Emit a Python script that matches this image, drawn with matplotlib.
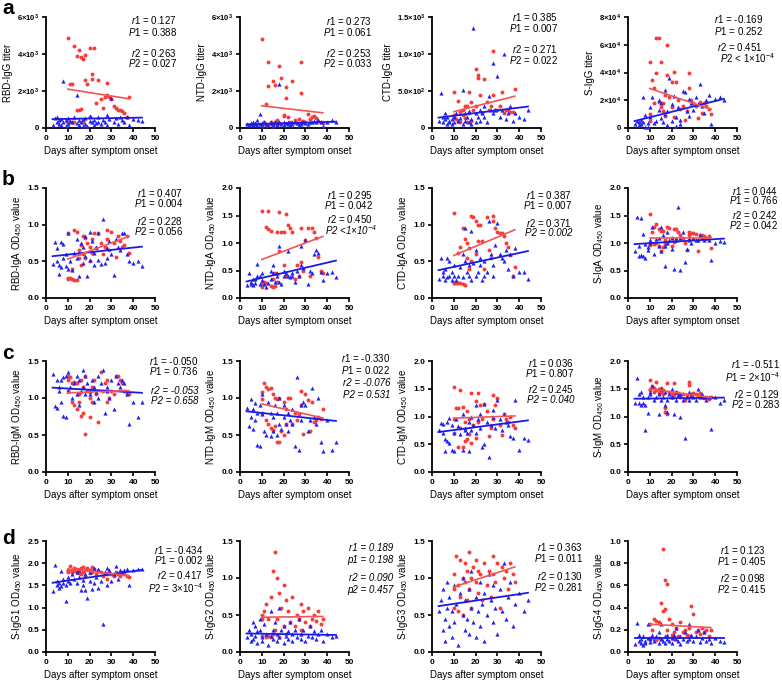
import numpy as np
import matplotlib
matplotlib.use('Agg')
import matplotlib.pyplot as plt

plt.rcParams['font.family'] = ['Liberation Sans', 'DejaVu Sans']
plt.rcParams['mathtext.fontset'] = 'custom'
plt.rcParams['mathtext.rm'] = 'Liberation Sans'
plt.rcParams['mathtext.it'] = 'Liberation Sans:italic'
plt.rcParams['mathtext.bf'] = 'Liberation Sans:bold'
plt.rcParams['mathtext.default'] = 'regular'

# ---------------- data ----------------
red_days = [10, 10, 10, 11, 12, 12, 13, 13, 14, 14, 15, 15, 16, 16, 17, 17, 18, 18, 19, 20, 20,
            21, 21, 22, 23, 24, 25, 26, 27, 28, 28, 29, 30, 31, 32, 33, 34, 35, 36, 37, 38]
blue_days = [3, 4, 5, 5, 6, 6, 7, 7, 8, 8, 9, 9, 10, 10, 11, 12, 13, 14, 14, 15, 15, 16, 17, 17,
             18, 18, 19, 20, 20, 21, 22, 22, 23, 24, 24, 25, 26, 27, 28, 28, 29, 30, 31, 32, 33,
             34, 35, 36, 37, 38, 40, 42, 44]

# row a : IgG titers
rbd_igg_red = [300, 4850, 250, 2400, 2400, 350, 4450, 300, 3900, 950, 4200, 1000, 3850, 1050, 3750, 300,
               3950, 2600, 2400, 4350, 600, 2900, 2650, 4350, 1350, 2600, 1550, 1100, 1700, 2450, 1800,
               1700, 1550, 1200, 1100, 1000, 950, 900, 800, 600, 1700]
rbd_igg_blue = [150, 550, 300, 600, 200, 450, 150, 500, 2550, 300, 100, 450, 200, 550, 400, 300, 600,
                1800, 250, 450, 150, 300, 500, 100, 550, 200, 100, 400, 650, 300, 150, 450, 250, 600,
                350, 200, 450, 300, 700, 150, 500, 1600, 350, 550, 200, 600, 450, 300, 600, 150, 500,
                450, 400]
ntd_igg_red = [150, 4800, 200, 300, 1300, 150, 3550, 2250, 200, 350, 2550, 150, 2350, 300, 200, 450,
               3350, 250, 2700, 650, 700, 2200, 1600, 600, 300, 2550, 450, 250, 500, 3550, 1900, 400,
               300, 750, 500, 600, 650, 550, 400, 300, 250]
ntd_igg_blue = [200, 150, 250, 200, 300, 150, 200, 250, 450, 150, 750, 200, 100, 250, 300, 200, 150,
                250, 300, 100, 200, 300, 150, 250, 300, 2400, 200, 350, 150, 250, 300, 200, 150, 350,
                200, 300, 250, 150, 350, 200, 300, 250, 200, 350, 300, 400, 350, 450, 300, 100, 350,
                450, 300]
ctd_igg_red = [150, 480, 170, 120, 370, 100, 80, 220, 250, 180, 300, 130, 300, 80, 480, 200, 350, 100,
               240, 800, 300, 720, 680, 450, 200, 660, 350, 250, 300, 1040, 450, 250, 240, 300, 480,
               200, 250, 250, 220, 210, 530]
ctd_igg_blue = [100, 470, 150, 80, 120, 200, 60, 150, 100, 80, 120, 50, 150, 80, 200, 100, 130, 520, 60,
                200, 100, 150, 80, 230, 60, 120, 1350, 200, 80, 150, 250, 100, 200, 300, 150, 80, 430,
                250, 880, 200, 250, 700, 150, 250, 1000, 120, 200, 300, 100, 200, 150, 120, 250]
s_igg_red = [10000, 47500, 5000, 34500, 29000, 18000, 65000, 39500, 65000, 19000, 47500, 15000, 18000,
             12000, 24000, 9000, 60000, 38000, 22000, 33500, 15000, 40500, 8000, 33500, 20000, 14000,
             16000, 6000, 12000, 40000, 28500, 20000, 18000, 16000, 7000, 19000, 11000, 18000, 16000,
             14000, 10000]
s_igg_blue = [3000, 5000, 4000, 2000, 5500, 3000, 22000, 4000, 9500, 1000, 3500, 500, 8000, 15000, 22000,
              3500, 5000, 20000, 13000, 18000, 7000, 4000, 27500, 10000, 2500, 12000, 36000, 5000, 17000,
              23000, 1500, 8000, 15000, 3000, 6000, 27000, 26000, 12000, 21000, 9000, 18000, 13000,
              22000, 17000, 32000, 16000, 11000, 20000, 24000, 3000, 21000, 22000, 20000]

# row b : IgA OD450
rbd_iga_red = [0.26, 0.88, 0.27, 0.27, 0.26, 0.40, 0.93, 0.25, 0.90, 0.25, 0.65, 0.55, 0.45, 0.72, 0.85,
               0.60, 0.82, 0.55, 0.75, 0.70, 0.50, 0.62, 0.80, 0.88, 0.68, 0.88, 0.75, 0.60, 0.70, 0.93,
               0.80, 0.65, 0.90, 0.75, 0.56, 0.85, 0.78, 0.70, 0.72, 0.85, 0.62]
rbd_iga_blue = [0.46, 0.77, 0.50, 0.68, 0.33, 0.45, 0.76, 0.42, 0.54, 0.74, 0.43, 0.60, 0.40, 0.88, 0.50,
                0.38, 0.62, 0.55, 0.80, 0.30, 0.62, 0.75, 0.48, 0.70, 0.85, 0.57, 0.30, 0.90, 0.52, 0.78,
                0.62, 0.45, 0.70, 0.52, 0.88, 0.46, 1.08, 0.48, 0.68, 0.55, 0.78, 0.60, 0.32, 0.80, 0.70,
                0.66, 0.88, 0.88, 0.60, 0.50, 0.48, 0.50, 0.44]
ntd_iga_red = [0.20, 1.59, 0.28, 0.30, 1.30, 0.28, 1.59, 1.25, 1.22, 0.22, 0.35, 0.20, 0.45, 0.22, 1.20,
               0.30, 1.57, 0.85, 1.20, 1.20, 0.60, 1.53, 0.40, 1.33, 1.28, 1.20, 0.35, 0.60, 0.40, 1.27,
               0.65, 0.50, 1.05, 1.28, 0.40, 1.28, 1.20, 1.10, 0.75, 0.50, 0.45]
ntd_iga_blue = [0.23, 0.45, 0.30, 0.25, 0.24, 0.35, 0.35, 0.28, 0.62, 0.40, 0.25, 0.40, 0.33, 0.45, 0.25,
                0.20, 0.28, 0.50, 0.35, 0.60, 0.45, 0.30, 0.40, 0.45, 0.95, 0.30, 0.25, 0.40, 0.50, 0.45,
                0.40, 0.85, 0.38, 0.45, 0.40, 0.30, 0.50, 0.40, 0.60, 0.95, 0.55, 1.05, 0.25, 0.50, 0.45,
                0.80, 0.87, 0.82, 0.48, 0.33, 0.45, 0.47, 0.38]
ctd_iga_red = [0.20, 1.16, 0.20, 0.20, 0.62, 0.21, 0.70, 0.20, 0.95, 0.19, 0.80, 0.18, 0.75, 0.55, 0.68,
               0.40, 1.12, 0.50, 1.10, 1.05, 0.60, 1.00, 0.78, 1.00, 0.78, 0.40, 1.10, 0.65, 0.55, 1.12,
               1.05, 0.95, 0.90, 0.88, 0.88, 0.85, 0.75, 0.70, 0.58, 0.30, 0.42]
ctd_iga_blue = [0.26, 0.55, 0.35, 0.30, 0.25, 0.40, 0.55, 0.28, 0.50, 0.30, 0.35, 0.25, 0.45, 0.30, 0.25,
                0.30, 0.42, 0.28, 0.60, 0.50, 0.95, 0.35, 0.45, 0.30, 0.92, 0.25, 0.48, 0.30, 0.65, 0.35,
                0.55, 0.45, 0.25, 0.30, 0.50, 0.35, 1.05, 0.60, 0.45, 0.30, 0.72, 1.02, 0.60, 0.55, 0.50,
                0.65, 0.40, 0.60, 0.30, 0.68, 0.36, 0.36, 0.26]
s_iga_red = [1.00, 1.52, 0.97, 1.20, 1.30, 0.98, 1.35, 1.00, 1.25, 0.95, 1.22, 0.85, 1.22, 0.92, 1.05,
             0.98, 1.30, 1.00, 1.28, 1.10, 0.95, 1.25, 1.02, 1.25, 1.20, 1.15, 1.10, 1.00, 0.87, 1.20,
             1.15, 1.18, 1.18, 1.17, 0.86, 1.15, 1.14, 1.12, 1.10, 1.12, 0.91]
s_iga_blue = [0.86, 1.48, 0.76, 0.95, 1.46, 0.78, 0.77, 1.17, 0.73, 0.98, 0.92, 0.88, 1.05, 1.00, 1.30,
              0.80, 1.08, 0.95, 1.10, 1.30, 0.85, 1.15, 0.58, 0.95, 1.00, 1.20, 1.05, 1.10, 0.90, 0.53,
              1.05, 1.10, 1.66, 0.51, 1.10, 1.20, 0.65, 0.90, 1.05, 1.10, 1.00, 1.10, 1.05, 1.05, 1.15,
              1.10, 1.05, 1.10, 1.05, 0.70, 1.00, 1.03, 1.02]

# row c : IgM OD450
rbd_igm_red = [1.25, 1.30, 1.10, 1.28, 0.95, 1.20, 1.22, 0.90, 1.20, 0.85, 0.95, 1.05, 1.25, 0.76, 0.80,
               1.15, 1.30, 0.51, 1.10, 0.74, 1.00, 1.15, 0.95, 1.25, 1.05, 0.68, 1.35, 1.10, 1.20, 1.25,
               0.95, 1.00, 1.10, 1.05, 1.30, 1.30, 1.25, 1.20, 1.10, 1.05, 1.05]
rbd_igm_blue = [1.32, 0.89, 1.25, 0.87, 1.10, 1.15, 1.25, 0.95, 0.76, 1.28, 0.75, 1.30, 1.35, 1.10, 1.15,
                1.00, 1.20, 1.30, 1.05, 0.90, 1.25, 1.10, 1.38, 1.15, 1.05, 1.30, 1.20, 1.05, 1.10, 1.25,
                0.95, 1.15, 1.08, 1.30, 1.00, 1.20, 1.38, 0.80, 1.10, 1.15, 1.00, 1.25, 0.85, 1.30, 1.20,
                1.15, 1.25, 1.20, 1.05, 0.65, 0.95, 0.74, 0.94]
ntd_igm_red = [0.98, 1.08, 0.80, 1.20, 1.15, 0.70, 1.12, 0.65, 1.14, 0.60, 1.05, 0.57, 1.00, 0.62, 0.98,
               0.40, 1.00, 0.40, 0.55, 0.95, 0.50, 0.65, 0.85, 1.00, 1.00, 0.65, 0.80, 0.70, 0.78, 1.10,
               0.90, 0.52, 1.05, 0.97, 0.55, 0.95, 0.68, 0.70, 0.75, 0.72, 0.85]
ntd_igm_blue = [0.87, 0.62, 0.98, 0.75, 0.58, 0.85, 0.93, 0.70, 0.37, 0.80, 0.35, 0.90, 0.78, 1.05, 0.55,
                0.50, 0.95, 0.48, 0.80, 0.75, 0.55, 0.90, 0.50, 0.80, 0.65, 1.00, 0.58, 0.75, 0.90, 0.65,
                0.80, 0.55, 0.70, 0.65, 0.85, 0.35, 1.28, 0.30, 0.90, 0.70, 0.95, 0.90, 0.55, 0.70, 1.13,
                0.75, 0.65, 1.00, 0.40, 0.28, 0.70, 0.30, 0.40]
ctd_igm_red = [0.95, 1.53, 0.70, 1.15, 1.15, 0.45, 1.47, 0.80, 1.18, 0.45, 0.90, 0.55, 1.10, 0.60, 0.68,
               0.95, 1.43, 0.52, 0.85, 1.28, 0.62, 1.42, 0.90, 1.20, 0.95, 1.22, 1.10, 0.65, 0.80, 1.38,
               0.95, 1.20, 1.33, 0.85, 0.67, 1.05, 0.95, 0.90, 1.00, 0.85, 0.80]
ctd_igm_blue = [0.76, 0.88, 0.86, 0.70, 0.60, 0.38, 0.90, 0.55, 0.52, 0.98, 0.40, 0.85, 0.38, 0.70, 0.95,
                0.82, 0.68, 0.40, 1.05, 0.75, 0.80, 0.70, 0.38, 0.90, 0.75, 1.00, 0.85, 1.20, 0.70, 0.95,
                0.80, 1.05, 0.45, 1.22, 0.50, 0.90, 0.27, 0.85, 1.00, 1.12, 0.80, 1.30, 0.95, 0.75, 1.05,
                0.90, 0.85, 0.65, 0.62, 1.29, 0.40, 0.62, 0.58]
s_igm_red = [1.48, 1.65, 1.50, 1.55, 1.52, 1.45, 1.62, 1.48, 1.50, 1.42, 1.45, 1.52, 1.40, 1.48, 1.15,
             1.08, 1.60, 1.05, 1.45, 1.40, 1.35, 1.60, 1.38, 1.45, 1.42, 1.35, 1.40, 1.30, 1.38, 1.62,
             1.56, 1.35, 1.42, 1.40, 1.38, 1.42, 1.35, 1.33, 1.35, 1.32, 1.35]
s_igm_blue = [1.25, 1.70, 1.25, 1.40, 1.20, 1.45, 1.25, 1.35, 0.75, 1.20, 1.07, 1.35, 1.40, 1.45, 1.55,
              1.30, 1.35, 1.05, 1.40, 1.30, 1.50, 1.35, 1.20, 1.45, 1.08, 1.30, 1.40, 1.35, 1.50, 1.05,
              1.30, 1.45, 1.38, 0.99, 1.40, 1.30, 0.61, 1.35, 1.30, 1.45, 1.40, 1.35, 1.30, 1.50, 1.35,
              1.40, 1.35, 1.30, 1.35, 0.77, 1.35, 1.25, 1.30]

# row d : S-IgG subclasses OD450
s_igg1_red = [1.82, 1.85, 1.80, 1.93, 1.85, 1.80, 1.90, 1.83, 1.88, 1.80, 1.85, 1.78, 1.90, 1.75, 1.92,
              1.80, 1.85, 1.72, 1.90, 1.85, 1.78, 1.92, 1.80, 1.88, 1.75, 1.83, 1.80, 1.72, 1.78, 1.75,
              1.65, 1.78, 1.75, 1.72, 1.80, 1.75, 1.72, 1.78, 1.75, 1.72, 1.68]
s_igg1_blue = [1.37, 1.95, 1.60, 1.50, 1.45, 1.55, 1.48, 1.82, 1.65, 1.55, 1.14, 1.50, 1.70, 1.60, 1.55,
               1.75, 1.65, 1.55, 1.80, 1.70, 1.85, 1.40, 1.62, 1.50, 1.40, 1.75, 1.22, 1.60, 1.80, 1.42,
               1.90, 1.55, 1.70, 1.45, 1.88, 1.60, 0.64, 1.80, 1.90, 1.50, 1.85, 1.60, 1.75, 1.93, 1.65,
               1.85, 1.80, 1.85, 1.88, 1.50, 1.85, 1.88, 1.87]
s_igg2_red = [0.45, 0.50, 0.22, 0.55, 0.20, 0.65, 0.45, 0.22, 0.75, 0.20, 1.10, 0.25, 1.35, 0.30, 1.00,
              0.45, 0.80, 0.20, 0.60, 0.90, 0.35, 0.70, 0.25, 0.55, 0.40, 0.75, 0.35, 0.50, 0.45, 0.65,
              0.30, 0.55, 0.40, 0.60, 0.35, 0.45, 0.50, 0.42, 0.55, 0.38, 0.45]
s_igg2_blue = [0.20, 0.30, 0.15, 0.25, 0.40, 0.18, 0.35, 0.22, 0.28, 0.12, 0.30, 0.45, 0.20, 0.15, 0.38,
               0.25, 0.10, 0.55, 0.22, 0.30, 0.18, 0.40, 0.25, 0.15, 0.60, 0.20, 0.30, 0.12, 0.35, 0.22,
               0.18, 0.28, 0.40, 0.15, 0.25, 0.30, 0.20, 0.45, 0.18, 0.25, 0.30, 0.15, 0.22, 0.35, 0.20,
               0.28, 0.18, 0.25, 0.30, 0.15, 0.25, 0.20, 0.22]
s_igg3_red = [0.85, 1.05, 0.60, 1.30, 0.90, 0.55, 1.25, 0.75, 1.00, 0.50, 0.95, 1.20, 1.10, 0.70, 1.35,
              0.85, 1.00, 0.60, 1.15, 0.95, 1.25, 0.80, 1.10, 1.05, 0.70, 1.20, 0.90, 1.10, 0.75, 1.30,
              1.05, 0.95, 1.20, 0.60, 1.15, 1.00, 1.10, 0.85, 1.20, 1.05, 0.95]
s_igg3_blue = [0.55, 0.70, 0.30, 0.85, 0.45, 0.15, 0.60, 0.95, 0.35, 0.75, 0.20, 0.55, 0.90, 0.40, 0.65,
               0.10, 0.80, 0.50, 1.00, 0.30, 0.70, 0.45, 0.85, 0.25, 0.60, 1.10, 0.40, 0.75, 0.20, 0.55,
               0.95, 0.35, 0.65, 0.80, 0.15, 0.50, 1.05, 0.70, 0.40, 0.90, 0.60, 0.25, 0.85, 0.55, 1.20,
               0.45, 0.75, 0.95, 0.35, 0.65, 0.80, 0.55, 0.70]
s_igg4_red = [0.12, 0.13, 0.25, 0.20, 0.30, 0.12, 0.28, 0.11, 0.27, 0.13, 0.44, 0.12, 0.93, 0.37, 0.65,
              0.39, 0.61, 0.20, 0.30, 0.15, 0.25, 0.12, 0.18, 0.22, 0.14, 0.27, 0.18, 0.20, 0.15, 0.22,
              0.14, 0.41, 0.34, 0.18, 0.20, 0.16, 0.22, 0.18, 0.20, 0.14, 0.20]
s_igg4_blue = [0.07, 0.26, 0.10, 0.15, 0.08, 0.12, 0.06, 0.14, 0.10, 0.08, 0.13, 0.25, 0.09, 0.12, 0.15,
               0.10, 0.14, 0.18, 0.08, 0.12, 0.25, 0.10, 0.14, 0.08, 0.12, 0.15, 0.10, 0.13, 0.08, 0.15,
               0.12, 0.22, 0.10, 0.14, 0.07, 0.12, 0.18, 0.10, 0.25, 0.12, 0.15, 0.10, 0.14, 0.20, 0.09,
               0.13, 0.18, 0.10, 0.12, 0.08, 0.13, 0.10, 0.09]

# regression line values: (value at first day, value at last day)
red_fits = [(2100, 1580), (1200, 820), (220, 430), (28500, 13500),
            (0.53, 0.84), (0.70, 1.12), (0.58, 0.93), (1.10, 1.10),
            (1.07, 1.10), (0.92, 0.73), (0.97, 1.01), (1.50, 1.34),
            (1.87, 1.72), (0.47, 0.48), (0.88, 1.15), (0.25, 0.22)]
blue_fits = [(480, 560), (200, 340), (140, 290), (5000, 21000),
             (0.57, 0.70), (0.30, 0.68), (0.38, 0.64), (0.98, 1.08),
             (1.14, 1.07), (0.82, 0.69), (0.72, 0.93), (1.32, 1.34),
             (1.56, 1.85), (0.25, 0.23), (0.62, 0.80), (0.13, 0.13)]

y_labels = ['RBD-IgG titer', 'NTD-IgG titer', 'CTD-IgG titer', 'S-IgG titer',
            'RBD-IgA OD$_{450}$ value', 'NTD-IgA OD$_{450}$ value', 'CTD-IgA OD$_{450}$ value', 'S-IgA OD$_{450}$ value',
            'RBD-IgM OD$_{450}$ value', 'NTD-IgM OD$_{450}$ value', 'CTD-IgM OD$_{450}$ value', 'S-IgM OD$_{450}$ value',
            'S-IgG1 OD$_{450}$ value', 'S-IgG2 OD$_{450}$ value', 'S-IgG3 OD$_{450}$ value', 'S-IgG4 OD$_{450}$ value']

y_ticks = [[0, 2000, 4000, 6000], [0, 2000, 4000, 6000], [0, 500, 1000, 1500], [0, 20000, 40000, 60000, 80000],
           [0, 0.5, 1.0, 1.5], [0, 0.5, 1.0, 1.5, 2.0], [0, 0.5, 1.0, 1.5], [0, 0.5, 1.0, 1.5, 2.0],
           [0, 0.5, 1.0, 1.5], [0, 0.5, 1.0, 1.5], [0, 0.5, 1.0, 1.5, 2.0], [0, 0.5, 1.0, 1.5, 2.0],
           [0, 0.5, 1.0, 1.5, 2.0, 2.5], [0, 0.5, 1.0, 1.5], [0, 0.5, 1.0, 1.5], [0, 0.2, 0.4, 0.6, 0.8, 1.0]]
sci_tick_labels = {
    0: ['0', '2×10$^{\\mathbf{3}}$', '4×10$^{\\mathbf{3}}$', '6×10$^{\\mathbf{3}}$'],
    1: ['0', '2×10$^{\\mathbf{3}}$', '4×10$^{\\mathbf{3}}$', '6×10$^{\\mathbf{3}}$'],
    2: ['0', '5.0×10$^{\\mathbf{2}}$', '1.0×10$^{\\mathbf{3}}$', '1.5×10$^{\\mathbf{3}}$'],
    3: ['0', '2×10$^{\\mathbf{4}}$', '4×10$^{\\mathbf{4}}$', '6×10$^{\\mathbf{4}}$', '8×10$^{\\mathbf{4}}$'],
}
x_ticks = [0, 10, 20, 30, 40, 50]

# statistics text (line, italic-all flag, extra x shift in px)
stats = [
    [('r1 = 0.127', 0, 0), ('P1 = 0.388', 0, 0), ('r2 = 0.263', 0, 0), ('P2 = 0.027', 0, 0)],
    [('r1 = 0.273', 0, 0), ('P1 = 0.061', 0, 0), ('r2 = 0.253', 0, 0), ('P2 = 0.033', 0, 0)],
    [('r1 = 0.385', 0, 0), ('P1 = 0.007', 0, 0), ('r2 = 0.271', 0, 0), ('P2 = 0.022', 0, 0)],
    [('r1 = -0.169', 0, 0), ('P1 = 0.252', 0, 0), ('r2 = 0.451', 0, 0), ('P2 < 1×10$^{-4}$', 0, 12)],
    [('r1 = 0.407', 0, 0), ('P1 = 0.004', 0, 0), ('r2 = 0.228', 0, 0), ('P2 = 0.056', 0, 0)],
    [('r1 = 0.295', 0, 0), ('P1 = 0.042', 0, 0), ('r2 = 0.450', 0, 0), ('P2 <1×10$^{-4}$', 1, 4)],
    [('r1 = 0.387', 0, 0), ('P1 = 0.007', 0, 0), ('r2 = 0.371', 0, 0), ('P2 = 0.002', 1, 0)],
    [('r1 = 0.044', 0, 0), ('P1 = 0.766', 0, 0), ('r2 = 0.242', 0, 0), ('P2 = 0.042', 0, 0)],
    [('r1 = -0.050', 0, 0), ('P1 = 0.736', 0, 0), ('r2 = -0.053', 1, 0), ('P2 = 0.658', 1, 0)],
    [('r1 = -0.330', 0, 0), ('P1 = 0.022', 0, 0), ('r2 = -0.076', 1, 0), ('P2 = 0.531', 1, 0)],
    [('r1 = 0.036', 0, 0), ('P1 = 0.807', 0, 0), ('r2 = 0.245', 0, 0), ('P2 = 0.040', 1, 0)],
    [('r1 = -0.511', 0, 0), ('P1 = 2×10$^{-4}$', 0, 0), ('r2 = 0.129', 0, 0), ('P2 = 0.283', 0, 0)],
    [('r1 = -0.434', 0, 0), ('P1 = 0.002', 0, 0), ('r2 = 0.417', 0, 0), ('P2 = 3×10$^{-4}$', 0, 0)],
    [('r1 = 0.189', 1, 0), ('p1 = 0.198', 1, 0), ('r2 = 0.090', 1, 0), ('p2 = 0.457', 1, 0)],
    [('r1 = 0.363', 0, 0), ('P1 = 0.011', 0, 0), ('r2 = 0.130', 0, 0), ('P2 = 0.281', 0, 0)],
    [('r1 = 0.123', 0, 0), ('P1 = 0.405', 0, 0), ('r2 = 0.098', 0, 0), ('P2 = 0.415', 0, 0)],
]

red_series = [rbd_igg_red, ntd_igg_red, ctd_igg_red, s_igg_red,
              rbd_iga_red, ntd_iga_red, ctd_iga_red, s_iga_red,
              rbd_igm_red, ntd_igm_red, ctd_igm_red, s_igm_red,
              s_igg1_red, s_igg2_red, s_igg3_red, s_igg4_red]
blue_series = [rbd_igg_blue, ntd_igg_blue, ctd_igg_blue, s_igg_blue,
               rbd_iga_blue, ntd_iga_blue, ctd_iga_blue, s_iga_blue,
               rbd_igm_blue, ntd_igm_blue, ctd_igm_blue, s_igm_blue,
               s_igg1_blue, s_igg2_blue, s_igg3_blue, s_igg4_blue]
panel_letters = ['a', 'b', 'c', 'd']

# ---------------- layout ----------------
W, H = 782, 680
fig = plt.figure(figsize=(W / 100, H / 100), dpi=100)
col_left = [46, 240, 432, 628]
ax_w = 109
row_top = [17, 188, 361, 541]
row_bot = [128, 298, 472, 652]
# text anchor: x offset (px right of axes right edge), line center offsets from axes top
text_dx = [22, 23, 17, 26, 28, 24, 31, 41, 43, 41, 33, 43, 48, 44, 42, 29]
text_dy = [(3, 15, 36, 46), (4, 15, 36, 46), (0, 11, 32, 43), (2, 14, 30, 41),
           (5, 15, 33, 43), (7, 17, 31, 42), (7, 17, 35, 45), (3, 12, 27, 37),
           (0, 10, 30, 40), (-3, 9, 22, 34), (2, 12, 28, 39), (3, 16, 33, 43),
           (9, 19, 34, 47), (7, 19, 37, 49), (6, 17, 35, 46), (9, 20, 37, 48)]
letter_y = [8, 180, 353, 538]

RED = '#F83C3C'
BLUE = '#2323F0'
RED_LINE = '#F25555'
BLUE_LINE = '#1A1AE6'
FS = 7
TFS = 6
SCI_FS = 5.5

for i in range(16):
    r, c = divmod(i, 4)
    left = col_left[c]
    top = row_top[r]
    bot = row_bot[r]
    ax = fig.add_axes([left / W, 1 - bot / H, ax_w / W, (bot - top) / H])
    yt = y_ticks[i]
    ax.set_xlim(0, 50)
    ax.set_ylim(0, yt[-1])
    ax.scatter(red_days, red_series[i], s=8, marker='o', color=RED, linewidths=0, zorder=3, clip_on=False)
    ax.scatter(blue_days, blue_series[i], s=9, marker='^', color=BLUE, linewidths=0, zorder=3, clip_on=False)
    rx = [min(red_days), max(red_days)]
    bx = [min(blue_days), max(blue_days)]
    ax.plot(bx, blue_fits[i], color=BLUE_LINE, lw=1.3, zorder=4)
    ax.plot(rx, red_fits[i], color=RED_LINE, lw=1.2, zorder=4)

    for s in ['top', 'right']:
        ax.spines[s].set_visible(False)
    for s in ['left', 'bottom']:
        ax.spines[s].set_linewidth(1.3)
    ax.tick_params(direction='out', length=3, width=1.2, labelsize=TFS, pad=2)
    ax.set_xticks(x_ticks)
    ax.set_xticklabels([str(v) for v in x_ticks], fontweight='bold')
    ax.set_yticks(yt)
    if i in sci_tick_labels:
        ax.set_yticklabels(sci_tick_labels[i], fontweight='bold', fontsize=SCI_FS)
    else:
        ax.set_yticklabels(['%.1f' % v for v in yt], fontweight='bold')
    ax.set_xlabel('Days after symptom onset', fontsize=FS, labelpad=3)
    ax.set_ylabel(y_labels[i], fontsize=FS, labelpad=2.5)

    # stats text
    for (txt, ital, extra), dy in zip(stats[i], text_dy[i]):
        xr = (left + ax_w + text_dx[i] + extra) / W
        if ital:
            s_txt = txt
            style = 'italic'
        else:
            name, rest = txt.split(' ', 1)
            s_txt = r'$\mathit{' + name + '}$ ' + rest
            style = 'normal'
        fig.text(xr, 1 - (top + dy) / H, s_txt, fontsize=FS, fontstyle=style,
                 ha='right', va='center')

for r in range(4):
    fig.text(2 / W, 1 - letter_y[r] / H, panel_letters[r], fontsize=15, fontweight='bold',
             ha='left', va='center')

fig.savefig('out.png', dpi=100)
